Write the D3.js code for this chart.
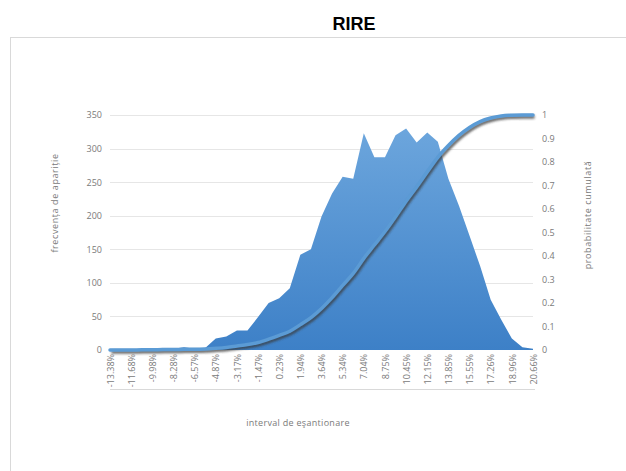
<!DOCTYPE html>
<html><head><meta charset="utf-8">
<script src="https://cdn.jsdelivr.net/npm/d3@7"></script>
<style>body{margin:0;background:#fff}svg{display:block}</style>
</head><body><svg id="c" width="626" height="471"></svg>
<script>
const categories = ["-13.38%","-12.53%","-11.68%","-10.83%","-9.98%","-9.13%","-8.28%","-7.42%","-6.57%","-5.72%",
"-4.87%","-4.02%","-3.17%","-2.32%","-1.47%","-0.62%","0.23%","1.09%","1.94%","2.79%",
"3.64%","4.49%","5.34%","6.19%","7.04%","7.90%","8.75%","9.60%","10.45%","11.30%",
"12.15%","13.00%","13.85%","14.70%","15.55%","16.41%","17.26%","18.11%","18.96%","19.81%","20.66%"];
const frequency = [1,1,1,1,1,3,2,4,2,3,
17,20,29,29,49,70,77,92,142,150,
199,233,258,255,323,287,287,320,330,309,
324,310,255,215,170,125,75,45,17,4,2];
const cumulative = [0,0,0,0.001,0.001,0.002,0.002,0.003,0.003,0.004,
0.007,0.011,0.017,0.023,0.032,0.046,0.062,0.080,0.108,0.138,
0.177,0.223,0.275,0.326,0.39,0.447,0.504,0.567,0.633,0.694,
0.758,0.82,0.87,0.913,0.947,0.972,0.987,0.996,0.999,1.0,1.0];
const leftTicks = [0,50,100,150,200,250,300,350];
const rightTicks = [0,0.1,0.2,0.3,0.4,0.5,0.6,0.7,0.8,0.9,1];
const tickLabelIdx = d3.range(0, categories.length, 2);

const svg = d3.select("#c");
const F = "'Open Sans','Noto Sans',sans-serif";
const grey = "#7a7a7a";
const X0 = 110, X1 = 533, Y0 = 350, Y1 = 115;

svg.append("rect").attr("x",10.5).attr("y",37.5).attr("width",700).attr("height",500)
  .attr("fill","none").attr("stroke","#d9d9d9");

svg.append("text").attr("x",354).attr("y",30).attr("text-anchor","middle")
  .attr("font-family","'Liberation Sans',Arial,sans-serif").attr("font-weight","bold")
  .attr("font-size",18).attr("fill","#000").text("RIRE");

const x = d3.scalePoint().domain(d3.range(categories.length)).range([X0, X1]);
const yL = d3.scaleLinear().domain([0,350]).range([Y0, Y1]);
const yR = d3.scaleLinear().domain([0,1]).range([Y0, Y1]);

const defs = svg.append("defs");
const g = defs.append("linearGradient").attr("id","ag").attr("x1",0).attr("y1",0).attr("x2",0).attr("y2",1)
  .attr("gradientUnits","userSpaceOnUse").attr("x1",0).attr("y1",Y1).attr("x2",0).attr("y2",Y0);
g.append("stop").attr("offset",0).attr("stop-color","#6fa8de");
g.append("stop").attr("offset",1).attr("stop-color","#3d80c7");
const flt = defs.append("filter").attr("id","sh").attr("x","-10%").attr("y","-10%").attr("width","120%").attr("height","120%");
flt.append("feGaussianBlur").attr("stdDeviation",1.2);

// gridlines
svg.append("g").selectAll("line").data(leftTicks.slice(1)).join("line")
  .attr("x1",X0).attr("x2",X1).attr("y1",d=>Math.round(yL(d))+0.5).attr("y2",d=>Math.round(yL(d))+0.5)
  .attr("stroke","#e6e6e6").attr("stroke-width",1);

// area
const area = d3.area().x((d,i)=>x(i)).y0(Y0).y1(d=>yL(d));
svg.append("path").datum(frequency).attr("d",area).attr("fill","url(#ag)");

// cumulative line with shadow
const line = d3.line().x((d,i)=>x(i)).y(d=>yR(d)).curve(d3.curveMonotoneX);
svg.append("path").datum(cumulative).attr("d",line).attr("fill","none")
  .attr("stroke","#3a3a3a").attr("stroke-opacity",0.75).attr("stroke-width",3.5)
  .attr("transform","translate(1.5,2)").attr("filter","url(#sh)");
svg.append("path").datum(cumulative).attr("d",line).attr("fill","none")
  .attr("stroke","#5b9bd5").attr("stroke-width",3.5).attr("stroke-linecap","round");

// bottom axis line under labels
svg.append("line").attr("x1",X0).attr("x2",X1+2).attr("y1",389.5).attr("y2",389.5)
  .attr("stroke","#d9d9d9");

// left axis
const axL = d3.axisLeft(yL).tickValues(leftTicks).tickSize(0).tickPadding(8);
const gl = svg.append("g").attr("transform",`translate(${X0},0)`).call(axL);
gl.select(".domain").remove();
gl.selectAll("text").attr("font-family",F).attr("font-size",9).attr("fill",grey);

// right axis
const axR = d3.axisRight(yR).tickValues(rightTicks).tickSize(0).tickPadding(9).tickFormat(d=>String(d));
const gr = svg.append("g").attr("transform",`translate(${X1},0)`).call(axR);
gr.select(".domain").remove();
gr.selectAll("text").attr("font-family",F).attr("font-size",9).attr("fill",grey);

// bottom axis
const axB = d3.axisBottom(x).tickValues(tickLabelIdx).tickSize(0).tickFormat(i=>categories[i]);
const gb = svg.append("g").attr("transform",`translate(0,${Y0})`).call(axB);
gb.select(".domain").remove();
gb.selectAll("text").attr("font-family",F).attr("font-size",9).attr("fill",grey)
  .attr("text-anchor","end").attr("dy","0.35em").attr("transform","translate(0,4) rotate(-90)").attr("y",0).attr("x",0);

// axis titles
svg.append("text").attr("transform","translate(58,203) rotate(-90)").attr("text-anchor","middle")
  .attr("font-family",F).attr("font-size",9).attr("letter-spacing","0.6px").attr("fill",grey).text("frecvența de apariție");
svg.append("text").attr("transform","translate(591,215) rotate(-90)").attr("text-anchor","middle")
  .attr("font-family",F).attr("font-size",9).attr("letter-spacing","0.6px").attr("fill",grey).text("probabilitate cumulată");
svg.append("text").attr("x",298).attr("y",426).attr("text-anchor","middle")
  .attr("font-family",F).attr("font-size",9).attr("letter-spacing","0.3px").attr("fill",grey).text("interval de eşantionare");
</script></body></html>
